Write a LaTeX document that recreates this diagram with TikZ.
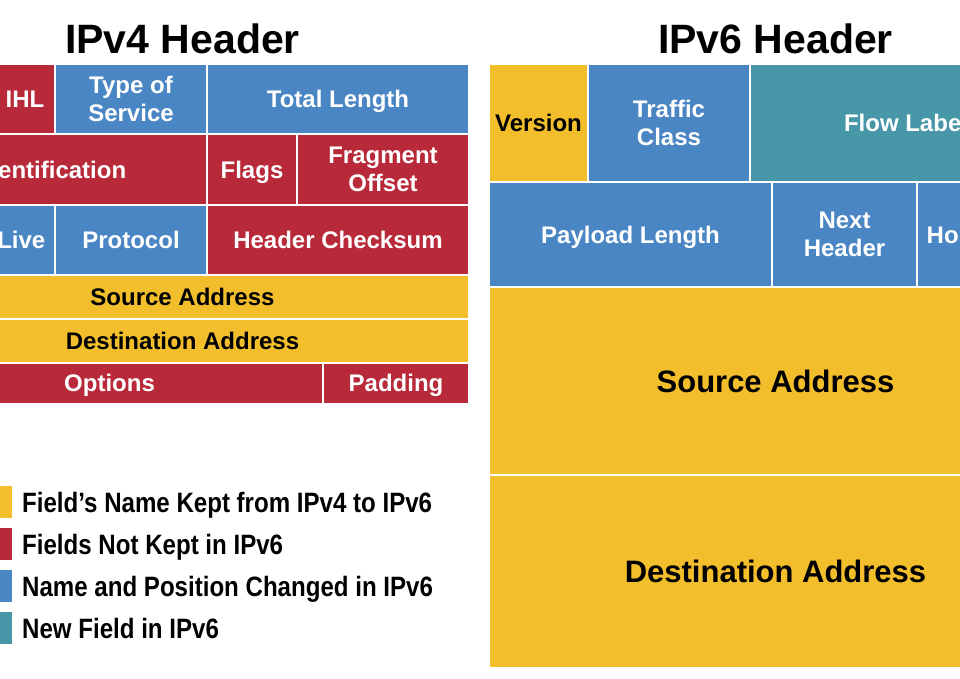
\documentclass[tikz,border=0pt]{standalone}
\usepackage{fontspec}
\setmainfont{Liberation Sans}
\newfontfamily\legendfont[FakeStretch=0.86]{Liberation Sans}
\usetikzlibrary{positioning}
\definecolor{keptyellow}{RGB}{242,190,44}
\definecolor{droppedred}{RGB}{184,42,58}
\definecolor{changedblue}{RGB}{74,134,196}
\definecolor{newteal}{RGB}{72,151,168}

\begin{document}
\begin{tikzpicture}[x=1pt, y=-1pt,
    cell/.style={draw=white, line width=2pt, rectangle, inner sep=0pt, align=center, text=white, text depth=0pt, font=\bfseries\fontsize{24}{28}\selectfont},
    kept/.style={cell, fill=keptyellow, text=black},
    bigkept/.style={kept, font=\bfseries\fontsize{31}{36}\selectfont},
    dropped/.style={cell, fill=droppedred},
    changed/.style={cell, fill=changedblue},
    newfield/.style={cell, fill=newteal},
    headtitle/.style={anchor=base, inner sep=0pt, font=\bfseries\fontsize{41}{48}\selectfont},
    keybox/.style={rectangle, minimum width=32pt, minimum height=32pt, inner sep=0pt, outer sep=0pt},
    keylabel/.style={inner sep=0pt, text depth=0pt, font=\legendfont\bfseries\fontsize{28}{32}\selectfont}]

    \fill[white] (0,0) rectangle (960,678);
    \useasboundingbox (0,0) rectangle (960,678);
    \clip (0,0) rectangle (960,678);

    % IPv4 header
    \node[headtitle] (vfourtitle) at (182.5,53) {IPv4 Header};
    \node[dropped, minimum width=60pt, minimum height=70pt] (ihl) at (25,99) {IHL};
    \node[changed, minimum width=152pt, minimum height=70pt] (tos) at (131,99) {Type of\\Service};
    \node[changed, minimum width=262pt, minimum height=70pt] (totlen) at (338,99) {Total Length};
    \node[dropped, minimum width=311pt, minimum height=71pt] (ident) at (51.5,169.5) {Identification};
    \node[dropped, minimum width=90pt, minimum height=71pt] (flags) at (252,169.5) {Flags};
    \node[dropped, minimum width=172pt, minimum height=71pt] (fragoff) at (383,169.5) {Fragment\\Offset};
    \node[changed, minimum width=159pt, minimum height=69.5pt] (ttl) at (-24.5,239.75) {Time to Live};
    \node[changed, minimum width=152pt, minimum height=69.5pt] (proto) at (131,239.75) {Protocol};
    \node[dropped, minimum width=262pt, minimum height=69.5pt] (checksum) at (338,239.75) {Header Checksum};
    \node[kept, minimum width=573pt, minimum height=44pt] (srcfour) at (182.5,296.5) {Source Address};
    \node[kept, minimum width=573pt, minimum height=44pt] (dstfour) at (182.5,340.5) {Destination Address};
    \node[dropped, minimum width=427pt, minimum height=41.5pt] (options) at (109.5,383.25) {Options};
    \node[dropped, minimum width=146pt, minimum height=41.5pt] (padding) at (396,383.25) {Padding};

    % IPv6 header
    \node[headtitle] (vsixtitle) at (775.5,53) {IPv6 Header};
    \node[kept, minimum width=99pt, minimum height=118pt] (version) at (538.5,123) {Version};
    \node[changed, minimum width=162pt, minimum height=118pt] (traffic) at (669,123) {Traffic\\Class};
    \node[newfield, minimum width=312pt, minimum height=118pt] (flowlabel) at (906,123) {Flow Label};
    \node[changed, minimum width=283pt, minimum height=105pt] (payload) at (630.5,234.5) {Payload Length};
    \node[changed, minimum width=145pt, minimum height=105pt] (nexthdr) at (844.5,234.5) {Next\\Header};
    \node[changed, minimum width=130pt, minimum height=105pt] (hoplimit) at (982,234.5) {Hop Limit};
    \node[bigkept, minimum width=573pt, minimum height=188pt] (srcsix) at (775.5,381) {Source Address};
    \node[bigkept, minimum width=573pt, minimum height=193pt] (dstsix) at (775.5,571.5) {Destination Address};

    % Legend
    \node[keybox, fill=keptyellow] (keykept) at (-4,502) {};
    \node[keybox, fill=droppedred, below=10pt of keykept] (keydropped) {};
    \node[keybox, fill=changedblue, below=10pt of keydropped] (keychanged) {};
    \node[keybox, fill=newteal, below=10pt of keychanged] (keynew) {};
    \node[keylabel, right=10pt of keykept] (txtkept) {Field’s Name Kept from IPv4 to IPv6};
    \node[keylabel, right=10pt of keydropped] (txtdropped) {Fields Not Kept in IPv6};
    \node[keylabel, right=10pt of keychanged] (txtchanged) {Name and Position Changed in IPv6};
    \node[keylabel, right=10pt of keynew] (txtnew) {New Field in IPv6};
\end{tikzpicture}
\end{document}
